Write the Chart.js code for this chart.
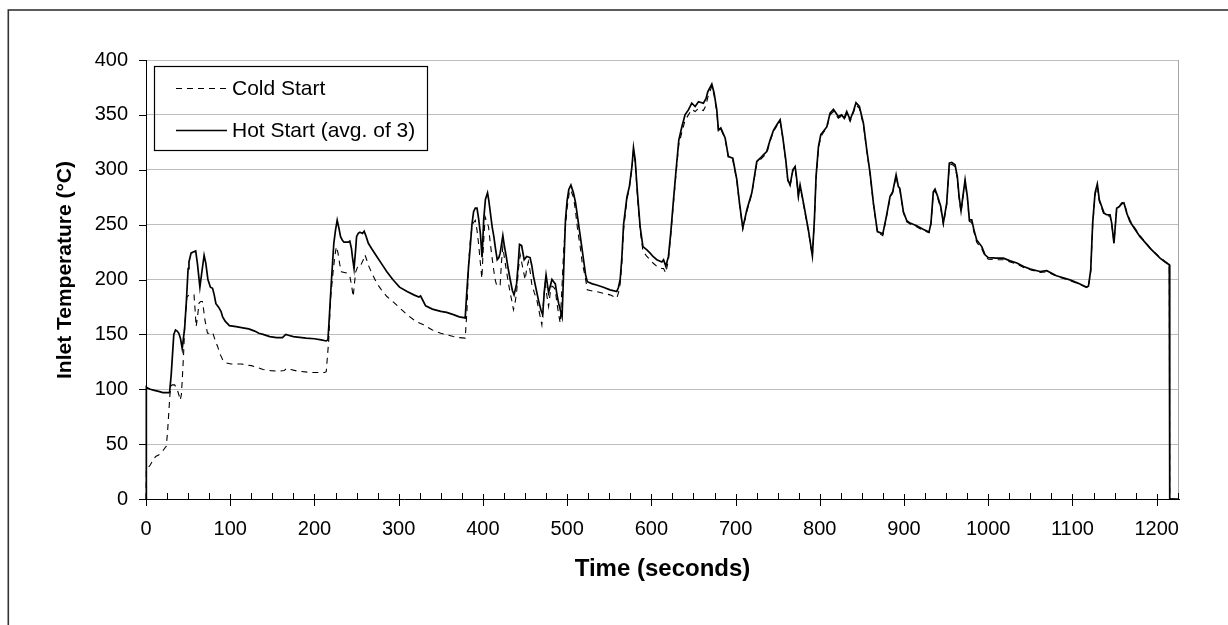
<!DOCTYPE html>
<html><head><meta charset="utf-8">
<script src="https://cdn.jsdelivr.net/npm/chart.js@4.4.1/dist/chart.umd.min.js"></script>
<style>html,body{margin:0;padding:0;background:#fff;}canvas{display:block;}</style>
</head><body>
<canvas id="c" width="1228" height="625"></canvas>
<script>
// ---------- data ----------
const seriesLabels = ['Cold Start', 'Hot Start (avg. of 3)'];
const xTitle = 'Time (seconds)';
const yTitle = 'Inlet Temperature (°C)';
const xTickValues = [0,100,200,300,400,500,600,700,800,900,1000,1100,1200];
const xMinorTickValues = [25,50,75,125,150,175,225,250,275,325,350,375,425,450,475,525,550,575,625,650,675,725,750,775,825,850,875,925,950,975,1025,1050,1075,1125,1150,1175,1225];
const yTickValues = [0,50,100,150,200,250,300,350,400];
const xMax = 1226.5;

const hotTime = [0,0.4,2,5,10,15,20,28,30,33,35,37,39,41,43,45,46,48,50,51,53.5,56,59,61,64,66,69,71,73.5,76.5,79,81,83,86,89,91,94,99,107,115,122,129,134,139,147,155,162,166,170,175,190,200,208,214,216,217,220,223,225,227,229,231,233,235,240,242,244,245,247,249,250,252,254,257,259,261,264,268,274,280,286,293,301,310,318,324,326,328,332,340,350,357,365,372,379,381,383,385,387,389,391,393,395,397,399,401,403,405.5,407,409,411,413,415,417,419,420.5,423.7,425,427.7,430,432.4,435,437,440,442,443.5,446,449,452,456,458,460,463,466,469,471,473,475,478,482,484,486,488,490,494,496,498,500,502,504.5,507.5,510,513.5,517,519.5,522,524,530,535,543,551,559,561,563,565,567,571,574,577,578.8,580.8,583.5,586.7,590,594.7,598.6,602,606.5,612.5,614.5,617.2,620.3,623,626.3,629.4,632.6,636.2,640,644,648,652,656,661.8,665,667,671.8,674.5,677.7,679.7,682.5,687.6,691.5,696.7,701.5,704.6,708.6,713.4,719.3,725.2,729.2,733,737,741,745,749,752.9,756,759.6,762,764.7,768,770.7,772.7,774.6,776.6,778.6,781.4,786.5,791.2,793.6,795.6,798.4,801.2,804.3,808.3,812.2,816.2,819,822,826,829,832,836,840,843,847,851.8,855.8,859.7,863.6,868.4,874.8,878.7,883.4,886.6,890.6,893.3,895,899.2,903.3,907.2,915,922,929.7,932,934.8,936.8,940,943.6,946.7,950.7,953.8,956.7,960.6,963.3,965.4,967.7,972.5,975.2,977.6,980.4,983.1,986.3,992.3,996.2,1000,1010,1018,1026,1034,1042,1050,1061.5,1069.5,1081,1097,1107,1117,1119,1121.7,1124,1126.8,1129.5,1131.9,1134.7,1137.5,1140.6,1144.6,1146.6,1149.3,1152.5,1155.7,1158.5,1161.2,1164.4,1168.3,1174,1180.2,1186,1192,1198,1204,1210,1215,1215.5,1226.5];
const hotTemp = [0,102,101,100,99,98,97,97,114,150,154,153,151,146,137,150,157,181,210,216,224,225,226,215,193,205,222,215,200,193,192,186,178,175,171,166,162,158,157,156,155,153,151,150,148,147,147,150,149,148,146.6,146,145,144,145,157,197,233,245,254,247,239,236,234,234,235,228,221,210,228,239,242,243,242,244,240,233,228,221,214,207,200,193,189,186,184,185,182,176,173,171,170,168,166,165,190,212,230,250,262,265,265,255,242,220,255,273,279,272,260,248,239,228,218,220,224,240,233,221,210,200,190,186,196,215,232,231,218,221,220,213,203,192,181,172,168,190,204,188,200,198,196,186,178,166,210,254,272,282,286,279,270,251,232,218,204,198,196,195,193,190.6,189,193,200,220,250,275,285,303,320,309,279,248,230,227,224,221,218,216,218,212,221,242,272.6,300,327,339,350,354.5,360.6,357.6,362,360.6,365,371,378,370,354.5,336,338,329,312,310.5,291,270,247,263.5,279,307.5,310.5,313.6,316.6,327,336,341,345.5,330,309,291,286,300,303,291,276,286,278,266.5,245,221.6,254.4,294,321,332,335,339,351.5,355,352,348.5,350,347,353,345.5,353.5,361,357.6,342.4,318,297,270,243.7,241.6,256,275.6,280,295.4,284.7,283,262,253.5,251.4,249,246,243.2,251.4,280,282.3,275.6,266.5,251.4,269.6,306,306.6,304.5,293.8,275.6,262.8,290.8,275.6,254.4,254.4,245,236,230,222.5,220,219.5,219.5,217,215,211.8,209.5,207.3,208,203.4,199.7,196.5,193,194,208.8,251.4,278.7,287,272.6,266.5,260.5,259,259,251.4,233,265,266.5,269,269.6,260.5,252.8,246,239,234,228.6,224,219.5,216,213.4,0,0];

const coldTime = [0,0.4,2,5,9.4,12,15,20,24,25.5,27,29,31,34,37,39,40.6,42,43,44.5,46,48.5,51,53,57,58.5,59.5,61,63,65,67,68.5,70,73,76,79,82,85,88,91,95,101,113,125,132,139,148,157,164,167,172,180,196,212,214,217,219,222,224,226,228,230,232,238,242,244,246,248,249,252,255,258,260,262,264,268,274,280,286,293,300,310,320,329.5,340,350,357,365,372,379,381,383,385,387,389,391,393,395,397,398.8,400.5,402.7,404.5,406.7,408.5,410.7,413,414.6,416.6,418.5,420.5,422,423.7,425.5,427.7,430,432.4,434.5,436.3,438.5,440.3,442.3,444.3,447,450.2,452,454,456,458,461,464,467,470,472,474,476,478,480,482,484,485.8,488,490,491.8,494,496,497.7,500,503,505,507.6,510,512.5,515.5,518,521.4,524,530,535,543,551,559,561,563,565,567,571,574,577,578.8,580.8,583.5,586.7,590,594.7,598.6,602,606.5,612.5,614.5,617.2,620.3,623,626.3,629.4,632.6,636.2,640,644,648,652,656,661.8,665,667,671.8,674.5,677.7,679.7,682.5,687.6,691.5,696.7,701.5,704.6,708.6,713.4,719.3,725.2,729.2,733,737,741,745,749,752.9,756,759.6,762,764.7,768,770.7,772.7,774.6,776.6,778.6,781.4,786.5,791.2,793.6,795.6,798.4,801.2,804.3,808.3,812.2,816.2,819,822,826,829,832,836,840,843,847,851.8,855.8,859.7,863.6,868.4,874.8,878.7,883.4,886.6,890.6,893.3,895,899.2,903.3,907.2,915,922,929.7,932,934.8,936.8,940,943.6,946.7,950.7,953.8,956.7,960.6,963.3,965.4,967.7,972.5,975.2,977.6,980.4,983.1,986.3,992.3,996.2,1000,1010,1018,1026,1034,1042,1050,1061.5,1069.5,1081,1097,1107,1117,1119,1121.7,1124,1126.8,1129.5,1131.9,1134.7,1137.5,1140.6,1144.6,1146.6,1149.3,1152.5,1155.7,1158.5,1161.2,1164.4,1168.3,1174,1180.2,1186,1192,1198,1204,1210,1215,1215.5,1226.5];
const coldTemp = [0,27,28,31,37,39,40,44,48,60,78,102,104,104,100,95,90,95,108,130,157,184,186,186,186,170,157,165,178.5,180,180,172,163,151,151,152,145,139,132,127,124,123,123,121.5,120,118,117,116.5,117,119,118,116.5,115.3,115.3,116,145,181.6,206,220,230,224,214,207,206,203,195,184.5,200,207,213,213,218,222.5,218,213,206,196.7,190,184.5,180,175,168,162,158.7,154,151,149.6,148,147,146.6,170,215,235,248,252,254,245,231.6,215,201,230,257,253,248,235,221,208,199.7,194,195,195,215,230,220,209,198,187.6,180,172.4,180,190.6,210,222.5,212,199.7,210,216.4,208,196,188,181.5,170,158.7,180,196.7,185,175.4,188,194,193,191,178,168,160.3,195,228,245,265,281.7,280,275,262,245,230,215,202.7,190.6,189.5,189,187.5,186,183,188,196,215,245,273,284,302,318,307,276,245,226,221,218,215,212,210,210,206,218,240,270,297,323,334,345,350,355,353,356,354,359,366,376,368,353,335,337,328,311,309,290,269,246,262,278,306,309,312,315,326,335,340,344,329,308,290,285,299,302,290,275,285,277,265,244,221,253,292,319,330,334,338,350,353,350,347,349,346,351,344,352,359,356,341,317,296,269,243,240,255,274,279,294,284,282,261,252.5,250.5,248,245,242.5,250,279,281,274,265,250,268,304,305,303,292,274,261,289,274,253,252,243,234,228,221,218.5,218,218,216,214,211,209,206.5,207,203,199,196,192.5,193.5,207,249,277,285,271,265,259,258,258,250,234,264,267,270,270.5,262,254,247,240,234.5,229,224.5,220,216.5,213.4,0,0];

// ---------- chart ----------
const FONT = '"Liberation Sans", Arial, Helvetica, sans-serif';
const toPoints = (xs, ys) => xs.map((x, i) => ({x, y: ys[i]}));

const decor = {
  id: 'decor',
  beforeDraw(chart) {
    const ctx = chart.ctx;
    ctx.save();
    ctx.fillStyle = '#fff';
    ctx.fillRect(0, 0, chart.width, chart.height);
    ctx.strokeStyle = '#333';
    ctx.lineWidth = 1.6;
    ctx.strokeRect(8.3, 10, 1400, 800);
    ctx.restore();
  },
  afterDraw(chart) {
    const {ctx, chartArea: a, scales: {x, y}} = chart;
    ctx.save();
    // plot-area right border
    ctx.strokeStyle = '#a6a6a6';
    ctx.lineWidth = 1;
    ctx.beginPath();
    ctx.moveTo(a.right - 0.5, a.top);
    ctx.lineTo(a.right - 0.5, a.bottom);
    ctx.stroke();
    // tick marks
    ctx.strokeStyle = '#000';
    ctx.beginPath();
    xTickValues.forEach(v => {
      const px = Math.round(x.getPixelForValue(v)) + 0.5;
      ctx.moveTo(px, a.bottom - 5); ctx.lineTo(px, a.bottom + 7);
    });
    xMinorTickValues.forEach(v => {
      if (v > x.max) return;
      const px = Math.round(x.getPixelForValue(v)) + 0.5;
      ctx.moveTo(px, a.bottom - 6); ctx.lineTo(px, a.bottom);
    });
    yTickValues.forEach(v => {
      const py = Math.round(y.getPixelForValue(v)) + 0.5;
      ctx.moveTo(a.left - 7, py); ctx.lineTo(a.left, py);
    });
    ctx.stroke();

    // legend
    ctx.lineWidth = 1.2;
    ctx.strokeStyle = '#000';
    ctx.strokeRect(154.5, 66.5, 273, 84);
    const rows = [88, 130];
    ctx.font = '21px ' + FONT;
    ctx.fillStyle = '#000';
    ctx.textBaseline = 'middle';
    ctx.textAlign = 'left';
    chart.data.datasets.forEach((ds, i) => {
      const ry = rows[i] + 0.5;
      ctx.save();
      ctx.lineWidth = ds.borderWidth;
      ctx.setLineDash(ds.borderDash || []);
      ctx.beginPath();
      ctx.moveTo(176, ry); ctx.lineTo(227, ry);
      ctx.stroke();
      ctx.restore();
      ctx.fillText(ds.label, 232, rows[i] + 1);
    });

    // axis titles
    ctx.font = 'bold 24px ' + FONT;
    ctx.textAlign = 'center';
    ctx.textBaseline = 'alphabetic';
    ctx.fillText(xTitle, (a.left + a.right) / 2, 576);
    ctx.save();
    ctx.translate(71, 270);
    ctx.rotate(-Math.PI / 2);
    ctx.font = 'bold 21px ' + FONT;
    ctx.fillText(yTitle, 0, 0);
    ctx.restore();
    ctx.restore();
  }
};

new Chart(document.getElementById('c'), {
  type: 'line',
  data: {
    datasets: [
      {label: seriesLabels[0], data: toPoints(coldTime, coldTemp), borderColor: '#000', borderWidth: 1.1, borderDash: [6, 5], pointRadius: 0, tension: 0, order: 1, fill: false, clip: false},
      {label: seriesLabels[1], data: toPoints(hotTime, hotTemp), borderColor: '#000', borderWidth: 1.7, pointRadius: 0, tension: 0, order: 0, fill: false, clip: false}
    ]
  },
  options: {
    responsive: false,
    animation: false,
    events: [],
    layout: {padding: {left: 0, top: 60, right: 49, bottom: 0}},
    plugins: {legend: {display: false}, tooltip: {enabled: false}},
    scales: {
      x: {
        type: 'linear', min: 0, max: xMax,
        afterFit(s) { s.height = 126; },
        afterBuildTicks(s) { s.ticks = xTickValues.map(v => ({value: v})); },
        grid: {display: false, drawTicks: false},
        border: {color: '#000', width: 1},
        ticks: {autoSkip: false, maxRotation: 0, color: '#000', font: {family: FONT, size: 20}, padding: 18, callback: v => String(v)}
      },
      y: {
        min: 0, max: 400,
        afterFit(s) { s.width = 146; },
        afterBuildTicks(s) { s.ticks = yTickValues.map(v => ({value: v})); },
        grid: {drawTicks: false, color: c => (c.tick && c.tick.value === 0) ? 'rgba(0,0,0,0)' : '#bdbdbd', lineWidth: 1},
        border: {color: '#000', width: 1},
        ticks: {color: '#000', font: {family: FONT, size: 20}, padding: 18, callback: v => String(v)}
      }
    }
  },
  plugins: [decor]
});
</script>
</body></html>
